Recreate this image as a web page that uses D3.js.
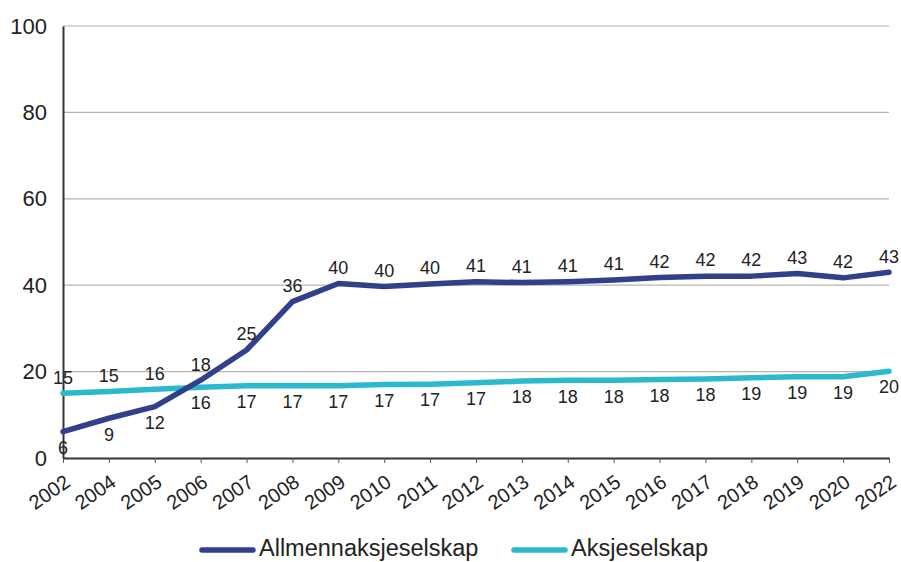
<!DOCTYPE html>
<html>
<head>
<meta charset="utf-8">
<script src="https://cdn.jsdelivr.net/npm/d3@7"></script>
<style>
  body { margin: 0; background: #fff; }
  svg { font-family: "Liberation Sans", Arial, sans-serif; }
</style>
</head>
<body>
<svg width="901" height="562"></svg>
<script>
const svg = d3.select('svg')
const width = +svg.attr('width')
const height = +svg.attr('height')

const years = ['2002', '2004', '2005', '2006', '2007', '2008', '2009', '2010', '2011', '2012',
	'2013', '2014', '2015', '2016', '2017', '2018', '2019', '2020', '2022']
const allmenn = [6.1, 9.2, 11.9, 18.0, 25.0, 36.2, 40.4, 39.7, 40.3, 40.8,
	40.6, 40.8, 41.2, 41.8, 42.1, 42.1, 42.7, 41.7, 43.0]
const aksje = [15.0, 15.4, 15.9, 16.4, 16.7, 16.7, 16.7, 17.0, 17.1, 17.4,
	17.8, 18.0, 18.0, 18.2, 18.3, 18.6, 18.8, 18.8, 20.1]
const yTicks = [0, 20, 40, 60, 80, 100]

const series = [
	{ name: 'Allmennaksjeselskap', values: allmenn, color: '#323f8b' },
	{ name: 'Aksjeselskap', values: aksje, color: '#2bb9d0' },
]

const margin = { top: 26, right: 12, bottom: 104, left: 63 }
const font = '"Liberation Sans", Arial, sans-serif'

const x = d3.scalePoint()
	.domain(years)
	.range([margin.left, width - margin.right])

const y = d3.scaleLinear()
	.domain([0, 100])
	.range([height - margin.bottom, margin.top])

// gridlines
svg.append('g')
	.selectAll('line')
	.data(yTicks.filter(d => d > 0))
	.enter()
	.append('line')
	.attr('x1', margin.left)
	.attr('x2', width - margin.right)
	.attr('y1', d => y(d))
	.attr('y2', d => y(d))
	.attr('stroke', '#b3b3b3')
	.attr('stroke-width', 1.2)

// y axis
const yAxis = svg.append('g')
	.attr('transform', `translate(${margin.left},0)`)
	.call(d3.axisLeft(y).tickValues(yTicks).tickSize(0).tickPadding(16))
yAxis.select('.domain').attr('stroke', '#333').attr('stroke-width', 2)
yAxis.selectAll('text')
	.attr('font-size', 22)
	.attr('fill', '#222')
	.attr('font-family', font)

// x axis
const xAxis = svg.append('g')
	.attr('transform', `translate(0,${y(0)})`)
	.call(d3.axisBottom(x).tickSize(5).tickSizeOuter(0))
xAxis.select('.domain').attr('stroke', '#333').attr('stroke-width', 2)
xAxis.selectAll('.tick line').attr('stroke', '#555').attr('stroke-width', 1)
xAxis.selectAll('text')
	.attr('font-size', 20)
	.attr('fill', '#222')
	.attr('font-family', font)
	.attr('text-anchor', 'end')
	.attr('y', 0)
	.attr('dy', 0)
	.attr('transform', 'translate(8,27) rotate(-35)')

// lines
const line = d3.line()
	.x((d, i) => x(years[i]))
	.y(d => y(d))

svg.append('g')
	.selectAll('path')
	.data(series.slice().reverse())
	.enter()
	.append('path')
	.attr('d', d => line(d.values))
	.attr('fill', 'none')
	.attr('stroke', d => d.color)
	.attr('stroke-width', 5.5)
	.attr('stroke-linejoin', 'round')
	.attr('stroke-linecap', 'round')

// value labels: upper series above its line, lower series below
series.forEach((s, si) => {
	const other = series[1 - si]
	svg.append('g')
		.selectAll('text')
		.data(s.values)
		.enter()
		.append('text')
		.attr('x', (d, i) => x(years[i]))
		.attr('y', (d, i) => d >= other.values[i] ? y(d) - 16 : y(d) + 16)
		.attr('dy', '0.35em')
		.attr('text-anchor', 'middle')
		.attr('font-size', 18)
		.attr('fill', '#222')
		.text(d => Math.round(d))
})

// legend
const legend = svg.append('g')
	.attr('transform', `translate(200,${height - 12})`)

const items = legend.selectAll('g')
	.data(series)
	.enter()
	.append('g')
	.attr('transform', (d, i) => `translate(${i * 312},0)`)

items.append('line')
	.attr('x1', 2)
	.attr('x2', 53)
	.attr('stroke', d => d.color)
	.attr('stroke-width', 5.5)
	.attr('stroke-linecap', 'round')

items.append('text')
	.attr('x', 59)
	.attr('dy', '0.26em')
	.attr('font-size', 23.5)
	.attr('fill', '#222')
	.text(d => d.name)
</script>
</body>
</html>
